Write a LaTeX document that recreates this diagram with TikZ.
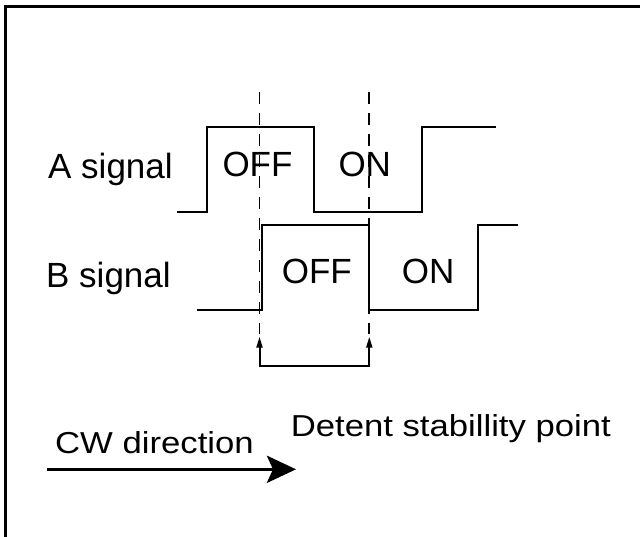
\documentclass[tikz,border=0pt]{standalone}
\usepackage{fontspec}
\setmainfont{Liberation Sans}
\usetikzlibrary{arrows.meta}
\begin{document}
\begin{tikzpicture}[x=1pt,y=-1pt,
  sig/.style={line width=2pt, line join=miter},
  guide/.style={line width=1.8pt, dash pattern=on 12pt off 9pt},
  big/.style={font=\fontsize{35}{40}\selectfont, inner sep=0pt, anchor=base west},
  small/.style={font=\fontsize{30.3}{36}\selectfont, inner sep=0pt, anchor=base west},
]
\useasboundingbox (0,0) rectangle (640,537);
% frame (top and left edges only)
\draw[line width=2.2pt] (5.5,537) -- (5.5,6.5) -- (640,6.5);

% dashed guides
\coordinate (d1t) at (259.5,92);
\coordinate (d1b) at (259.5,336.7);
\coordinate (d2t) at (369.3,92);
\coordinate (d2b) at (369.3,336.7);
\coordinate (g1) at (259.5,334);
\coordinate (g2) at (369.3,334);
\draw[guide] (d1t) -- (g1);
\draw[guide] (d2t) -- (g2);

% A signal waveform
\draw[sig] (176.7,211.7) -- (206.7,211.7) -- (206.7,126.7) -- (314,126.7)
  -- (314,211.7) -- (422.3,211.7) -- (422.3,126.7) -- (496,126.7);
% B signal waveform
\draw[sig] (197.3,310) -- (261.7,310) -- (261.7,225) -- (369.3,225)
  -- (369.3,310) -- (478.3,310) -- (478.3,225) -- (517.5,225);

% bracket with arrows
\coordinate (b1) at (259.5,366);
\coordinate (b2) at (369.3,366);
\draw[line width=2pt, {Triangle[length=11pt,width=6pt]}-{Triangle[length=11pt,width=6pt]}]
  (d1b) -- (b1) -- (b2) -- (d2b);

% labels
\node[big] (asig) at (48,178.3) {A signal};
\node[big] (bsig) at (46,287.7) {B signal};
\node[big] (aoff) at (222.3,176.7) {OFF};
\node[big] (aon) at (338.3,176.7) {ON};
\node[big] (boff) at (281.6,283.3) {OFF};
\node[big] (bon) at (401.6,283.3) {ON};
\node[small] (cw) at (55,453.3) {\scalebox{1.145}[1]{CW direction}};
\node[small] (det) at (290.6,436.7) {\scalebox{1.145}[1]{Detent stabillity point}};

% CW arrow
\coordinate (cwa) at (47.3,469.3);
\coordinate (cwb) at (296,469.3);
\draw[line width=3.5pt, -{Stealth[length=29pt,width=27pt,inset=6pt]}] (cwa) -- (cwb);
\end{tikzpicture}
\end{document}
